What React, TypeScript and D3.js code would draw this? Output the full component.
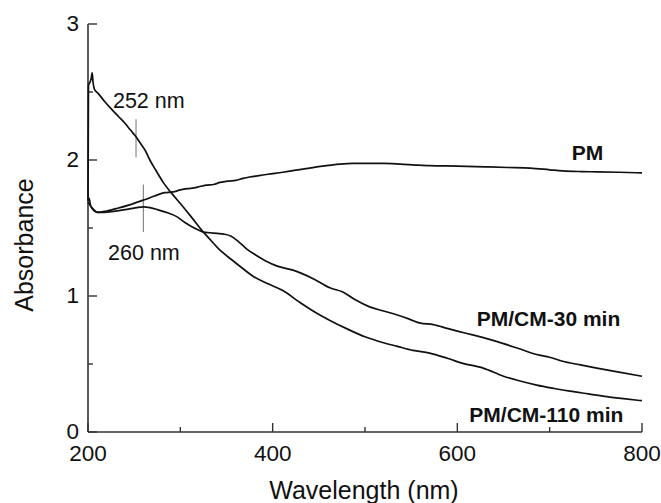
import React from "react";
import * as d3 from "d3";

// wavelength (nm), absorbance
const pmX = [200, 203, 207, 211, 220, 232, 245, 262, 272, 283, 292, 300, 308, 315, 321, 328, 336, 343, 352, 360, 368, 375, 385, 395, 411, 425, 440, 448, 460, 473, 487, 502, 520, 538, 555, 570, 600, 630, 655, 679, 700, 714, 735, 751, 775, 800];
const pmY = [1.69, 1.66, 1.63, 1.615, 1.625, 1.645, 1.67, 1.71, 1.735, 1.76, 1.765, 1.78, 1.79, 1.795, 1.805, 1.815, 1.82, 1.835, 1.845, 1.85, 1.865, 1.875, 1.885, 1.895, 1.91, 1.925, 1.94, 1.95, 1.96, 1.97, 1.975, 1.975, 1.975, 1.97, 1.963, 1.958, 1.955, 1.95, 1.945, 1.94, 1.928, 1.92, 1.915, 1.913, 1.91, 1.905];

const cm30X = [200, 201, 203, 207, 211, 218, 225, 235, 245, 253, 260, 267, 275, 287, 297, 305, 315, 325, 332, 340, 347, 355, 363, 372, 382, 392, 405, 422, 430, 446, 462, 476, 490, 505, 520, 535, 548, 560, 574, 590, 607, 630, 650, 668, 686, 700, 714, 732, 751, 775, 800];
const cm30Y = [1.7, 1.72, 1.66, 1.625, 1.615, 1.615, 1.62, 1.63, 1.64, 1.65, 1.655, 1.65, 1.635, 1.61, 1.58, 1.54, 1.5, 1.47, 1.465, 1.46, 1.455, 1.44, 1.4, 1.345, 1.3, 1.26, 1.22, 1.19, 1.17, 1.12, 1.06, 1.03, 0.97, 0.92, 0.89, 0.86, 0.83, 0.8, 0.79, 0.76, 0.73, 0.69, 0.65, 0.61, 0.57, 0.55, 0.52, 0.495, 0.47, 0.44, 0.41];

const cm110X = [200, 200.5, 202, 203.5, 204.5, 205.5, 207, 211, 218, 226, 233, 240, 246, 251, 256, 262, 267, 273, 282, 290, 300, 312, 325, 333, 341, 355, 368, 380, 395, 411, 430, 446, 462, 480, 500, 518, 535, 552, 570, 590, 606, 628, 650, 668, 686, 705, 722, 742, 762, 780, 800];
const cm110Y = [1.7, 2.55, 2.57, 2.6, 2.64, 2.57, 2.52, 2.49, 2.43, 2.37, 2.32, 2.27, 2.22, 2.18, 2.13, 2.07, 2.0, 1.93, 1.83, 1.76, 1.68, 1.58, 1.47, 1.41, 1.35, 1.27, 1.2, 1.14, 1.09, 1.04, 0.95, 0.88, 0.82, 0.76, 0.7, 0.66, 0.63, 0.6, 0.58, 0.54, 0.505, 0.47, 0.41, 0.375, 0.345, 0.32, 0.3, 0.28, 0.26, 0.245, 0.23];

const xMajor = [200, 400, 600, 800];
const xMinor = [300, 500, 700];
const yMajor = [0, 1, 2, 3];
const yMinor = [0.5, 1.5, 2.5];

const seriesNames = ["PM", "PM/CM-30 min", "PM/CM-110 min"];
const labelX = [724, 621, 613];
const labelY = [2.0, 0.78, 0.076];

const markerNm = [252, 260];
const markerLo = [2.02, 1.47];
const markerHi = [2.3, 1.82];
const markerText = ["252 nm", "260 nm"];
const markerTextX = [227, 221.7];
const markerTextY = [2.38, 1.265];

export default function App() {
  const x = d3.scaleLinear().domain([200, 800]).range([88, 642]);
  const y = d3.scaleLinear().domain([0, 3]).range([432, 24]);
  const line = d3
    .line<[number, number]>()
    .x((d) => x(d[0]))
    .y((d) => y(d[1]))
    .curve(d3.curveMonotoneX);
  const series = [
    pmX.map((v, i) => [v, pmY[i]] as [number, number]),
    cm30X.map((v, i) => [v, cm30Y[i]] as [number, number]),
    cm110X.map((v, i) => [v, cm110Y[i]] as [number, number]),
  ];
  const font = "'Liberation Sans', Arial, sans-serif";
  const axisColor = "#333";
  return (
    <svg
      width={661}
      height={503}
      style={{ position: "absolute", left: 0, top: 0, background: "#fff" }}
      fontFamily={font}
    >
      {/* axes */}
      <line x1={x(200)} x2={x(800)} y1={y(0)} y2={y(0)} stroke={axisColor} strokeWidth={1.6} />
      <line x1={x(200)} x2={x(200)} y1={y(0)} y2={y(3)} stroke={axisColor} strokeWidth={1.6} />
      {xMajor.map((t) => (
        <g key={"xm" + t}>
          <line x1={x(t)} x2={x(t)} y1={y(0)} y2={y(0) - 9} stroke={axisColor} strokeWidth={1.4} />
          <text x={x(t)} y={461} textAnchor="middle" fontSize={22.5} fill="#111">
            {t}
          </text>
        </g>
      ))}
      {xMinor.map((t) => (
        <line key={"xn" + t} x1={x(t)} x2={x(t)} y1={y(0)} y2={y(0) - 5} stroke={axisColor} strokeWidth={1.4} />
      ))}
      {yMajor.map((t) => (
        <g key={"ym" + t}>
          <line x1={x(200)} x2={x(200) + 9} y1={y(t)} y2={y(t)} stroke={axisColor} strokeWidth={1.4} />
          <text x={79} y={y(t)} dy="0.33em" textAnchor="end" fontSize={22.5} fill="#111">
            {t}
          </text>
        </g>
      ))}
      {yMinor.map((t) => (
        <line key={"yn" + t} x1={x(200)} x2={x(200) + 5} y1={y(t)} y2={y(t)} stroke={axisColor} strokeWidth={1.4} />
      ))}
      <text x={364} y={499} textAnchor="middle" fontSize={25} fill="#111">
        Wavelength (nm)
      </text>
      <text
        transform={`translate(33,245) rotate(-90)`}
        textAnchor="middle"
        fontSize={25}
        fill="#111"
      >
        Absorbance
      </text>

      {/* markers */}
      {markerNm.map((m, i) => (
        <g key={"mk" + i}>
          <line x1={x(m)} x2={x(m)} y1={y(markerLo[i])} y2={y(markerHi[i])} stroke="#8a8a8a" strokeWidth={1.2} />
          <text x={x(markerTextX[i])} y={y(markerTextY[i])} fontSize={21.5} fill="#111">
            {markerText[i]}
          </text>
        </g>
      ))}

      {/* curves */}
      {series.map((s, i) => (
        <path key={"s" + i} d={line(s) || ""} fill="none" stroke="#111" strokeWidth={1.7} strokeLinejoin="round" />
      ))}

      {seriesNames.map((n, i) => (
        <text key={"l" + i} x={x(labelX[i])} y={y(labelY[i])} fontSize={21} fontWeight="bold" fill="#111">
          {n}
        </text>
      ))}
    </svg>
  );
}
